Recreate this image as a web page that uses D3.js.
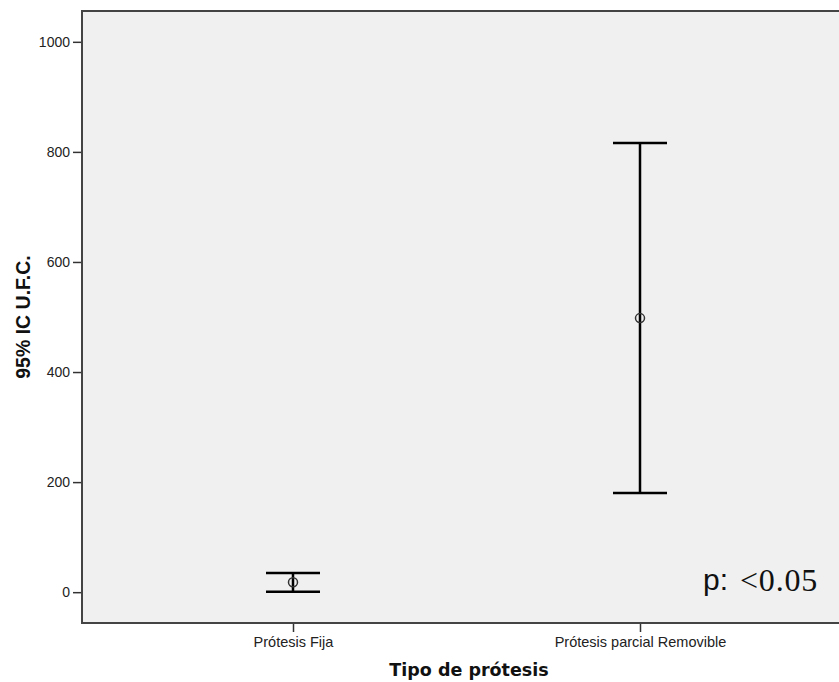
<!DOCTYPE html>
<html>
<head>
<meta charset="utf-8">
<script src="https://cdn.jsdelivr.net/npm/d3@7"></script>
<style>
  body { margin: 0; background: #fff; }
  text { font-family: "Liberation Sans", Arial, sans-serif; }
</style>
</head>
<body>
<div class="chart"></div>
<script>
var svgWidth = 839;
var svgHeight = 682;

// chart data
var categories = ["Prótesis Fija", "Prótesis parcial Removible"];
var means = [18, 498];
var lowerCI = [1, 180];
var upperCI = [35, 816];
var yTicks = [0, 200, 400, 600, 800, 1000];

var margin = { top: 11, right: 0, bottom: 59, left: 82 };
var width = svgWidth - margin.left - margin.right;
var height = svgHeight - margin.top - margin.bottom;

var svg = d3.select(".chart")
  .append("svg")
  .attr("width", svgWidth)
  .attr("height", svgHeight);

var g = svg.append("g")
  .attr("transform", "translate(" + margin.left + "," + margin.top + ")");

var y = d3.scaleLinear()
  .domain([-56, 1056])
  .range([height, 0]);

var x = d3.scalePoint()
  .domain(categories)
  .range([211, 558]);

// plot background
g.append("rect")
  .attr("x", 0)
  .attr("y", 0)
  .attr("width", width + 2)
  .attr("height", height)
  .attr("fill", "#f0f0f0");

// error bars
var capHalf = 27;
categories.forEach(function(c, i) {
  var cx = x(c);
  g.append("line")
    .attr("x1", cx).attr("x2", cx)
    .attr("y1", y(lowerCI[i])).attr("y2", y(upperCI[i]))
    .attr("stroke", "#000").attr("stroke-width", 2.5);
  [lowerCI[i], upperCI[i]].forEach(function(v) {
    g.append("line")
      .attr("x1", cx - capHalf).attr("x2", cx + capHalf)
      .attr("y1", y(v)).attr("y2", y(v))
      .attr("stroke", "#000").attr("stroke-width", 2.5);
  });
  g.append("circle")
    .attr("cx", cx)
    .attr("cy", y(means[i]))
    .attr("r", 4.5)
    .attr("fill", "none")
    .attr("stroke", "#333")
    .attr("stroke-width", 1.5);
});

// axes
var yAxis = g.append("g")
  .call(d3.axisLeft(y).tickValues(yTicks).tickSize(9).tickPadding(3).tickFormat(d3.format("d")));
yAxis.select(".domain").remove();
yAxis.selectAll("line").attr("stroke", "#333").attr("stroke-width", 1.5);
yAxis.selectAll("text").attr("font-size", 14).attr("fill", "#222")
  .style("font-family", "'Liberation Sans', Arial, sans-serif");

var xAxis = g.append("g")
  .attr("transform", "translate(0," + height + ")")
  .call(d3.axisBottom(x).tickSize(9).tickPadding(5));
xAxis.select(".domain").remove();
xAxis.selectAll("line").attr("stroke", "#333").attr("stroke-width", 1.5);
xAxis.selectAll("text").attr("font-size", 14.5).attr("fill", "#222")
  .style("font-family", "'Liberation Sans', Arial, sans-serif");

// frame (left, top, bottom)
g.append("path")
  .attr("d", "M" + (width + 2) + ",0H0V" + height + "H" + (width + 2))
  .attr("fill", "none")
  .attr("stroke", "#444")
  .attr("stroke-width", 2);

// titles
svg.append("text")
  .attr("x", 469)
  .attr("y", 676)
  .attr("text-anchor", "middle")
  .attr("font-size", 17.5)
  .attr("font-weight", "bold")
  .style("font-family", "'DejaVu Sans', sans-serif")
  .attr("fill", "#111")
  .text("Tipo de prótesis");

svg.append("text")
  .attr("transform", "translate(30," + (margin.top + height / 2) + ") rotate(-90)")
  .attr("text-anchor", "middle")
  .attr("font-size", 19.5)
  .attr("font-weight", "bold")
  .attr("fill", "#111")
  .text("95% IC U.F.C.");

// p value annotation
svg.append("text")
  .attr("x", 703)
  .attr("y", 590)
  .attr("fill", "#111")
  .attr("font-size", 30)
  .style("font-family", "'Liberation Sans', Arial, sans-serif")
  .text("p:");
svg.append("text")
  .attr("x", 740)
  .attr("y", 591)
  .attr("fill", "#111")
  .attr("font-size", 32)
  .attr("letter-spacing", 0.8)
  .style("font-family", "'Liberation Serif', 'Times New Roman', serif")
  .text("<0.05");
</script>
</body>
</html>
